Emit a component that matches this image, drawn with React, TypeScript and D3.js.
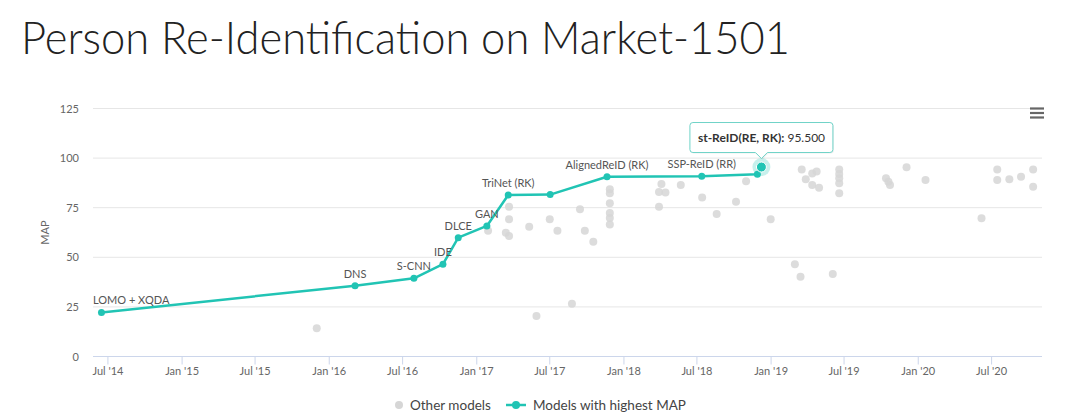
import React from "react";
import * as d3 from "d3";

// ---- data ----
const sotaNames = ["LOMO + XQDA", "DNS", "S-CNN", "IDE", "DLCE", "GAN", "TriNet (RK)", "", "AlignedReID (RK)", "SSP-ReID (RR)", "", "st-ReID(RE, RK)"];
const sotaDates = ["2014-06-15", "2016-03-05", "2016-07-29", "2016-10-09", "2016-11-16", "2017-01-26", "2017-03-20", "2017-07-02", "2017-11-20", "2018-07-13", "2018-11-28", "2018-12-08"];
const sotaValues = [22.2, 35.7, 39.4, 46.5, 59.9, 65.8, 81.4, 81.6, 90.6, 90.8, 91.8, 95.5];
const sotaLabelShown = [true, true, true, true, true, true, true, false, true, true, false, false];

const otherDates = [
  "2015-12-01", "2017-01-29", "2017-03-22", "2017-03-22", "2017-03-14", "2017-03-22", "2017-05-11", "2017-05-29",
  "2017-07-01", "2017-07-20", "2017-08-25", "2017-09-14", "2017-09-26", "2017-10-17",
  "2017-11-27", "2017-11-27", "2017-11-27", "2017-11-27", "2017-11-27", "2017-11-27",
  "2018-03-29", "2018-04-04", "2018-04-14", "2018-03-29", "2018-05-22", "2018-07-14", "2018-08-19", "2018-10-06", "2018-10-31", "2018-12-31",
  "2019-03-01", "2019-03-15", "2019-03-18", "2019-03-28", "2019-04-13", "2019-04-24", "2019-04-13", "2019-04-30", "2019-06-03",
  "2019-06-19", "2019-06-19", "2019-06-19", "2019-06-19", "2019-06-19",
  "2019-10-13", "2019-10-19", "2019-10-23", "2019-12-03", "2020-01-19", "2020-06-06",
  "2020-07-15", "2020-07-15", "2020-08-14", "2020-09-12", "2020-10-12", "2020-10-12",
];
const otherValues = [
  14.2, 63.4, 75.5, 69.2, 62.4, 60.7, 65.4, 20.4,
  69.2, 63.4, 26.6, 74.2, 63.4, 57.9,
  84.3, 82.3, 77.3, 72.3, 69.8, 66.5,
  82.9, 86.9, 82.6, 75.5, 86.4, 80.2, 71.8, 78.0, 88.3, 69.2,
  46.5, 40.2, 94.3, 89.3, 92.3, 93.3, 86.4, 85.1, 41.6,
  94.3, 92.0, 89.8, 87.3, 82.3,
  89.8, 88.1, 86.4, 95.4, 89.0, 69.7,
  94.3, 89.0, 89.3, 90.6, 94.3, 85.6,
];

const yTicks = [0, 25, 50, 75, 100, 125];
const xDomain = ["2014-05-25", "2020-11-03"];
const titleText = "Person Re-Identification on Market-1501";
const yAxisTitle = "MAP";
const legendItems = ["Other models", "Models with highest MAP"];
const highlightIndex = 11;

const TEAL = "#21c4b4";
const GRAY = "#d6d6d6";
const FONT = "Lato, 'Open Sans', sans-serif";

export default function App() {
  const parse = d3.timeParse("%Y-%m-%d");
  const left = 93, right = 1042, top = 108.5, bottom = 356.5;
  const x = d3.scaleTime().domain(xDomain.map((d) => parse(d) as Date)).range([left, right]);
  const y = d3.scaleLinear().domain([0, 125]).range([bottom, top]);

  const sota = sotaDates.map((d, i) => ({ date: parse(d) as Date, v: sotaValues[i], name: sotaNames[i], show: sotaLabelShown[i] }));
  const others = otherDates.map((d, i) => ({ date: parse(d) as Date, v: otherValues[i] }));

  const line = d3.line<{ date: Date; v: number }>().x((d) => x(d.date)).y((d) => y(d.v));
  const xTicks = x.ticks(d3.timeMonth.every(6) as any).filter((d) => d.getMonth() === 0 || d.getMonth() === 6);
  const fmt = d3.timeFormat("%b '%y");

  const hp = sota[highlightIndex];
  const hx = x(hp.date), hy = y(hp.v);
  const tw = 143, th = 30;
  const tx = hx - tw / 2, tyBottom = hy - 14.5, tyTop = tyBottom - th;
  const r = 3;
  const tip = `M${tx + r},${tyTop} H${tx + tw - r} Q${tx + tw},${tyTop} ${tx + tw},${tyTop + r} V${tyBottom - r} Q${tx + tw},${tyBottom} ${tx + tw - r},${tyBottom} H${hx + 6} L${hx},${tyBottom + 6} L${hx - 6},${tyBottom} H${tx + r} Q${tx},${tyBottom} ${tx},${tyBottom - r} V${tyTop + r} Q${tx},${tyTop} ${tx + r},${tyTop} Z`;

  return (
    <svg width={1080} height={415} style={{ position: "absolute", left: 0, top: 0, display: "block" }} fontFamily={FONT}>
      <rect width={1080} height={415} fill="#fff" />
      <text x={21} y={54} fontSize={45} fontWeight={300} fill="#222" textLength={769} lengthAdjust="spacingAndGlyphs">{titleText}</text>

      {/* grid */}
      {yTicks.map((t) => (
        <g key={t}>
          <line x1={left} x2={right} y1={y(t)} y2={y(t)} stroke={t === 0 ? "#ccd6eb" : "#e6e6e6"} strokeWidth={1} />
          <text x={79} y={y(t) + 4} textAnchor="end" fontSize={11} fill="#666">{t}</text>
        </g>
      ))}
      <text transform={`translate(49,${(top + bottom) / 2}) rotate(-90)`} textAnchor="middle" fontSize={11} fill="#666">{yAxisTitle}</text>

      {/* x axis */}
      {xTicks.map((t, i) => (
        <g key={i}>
          <line x1={x(t)} x2={x(t)} y1={bottom} y2={bottom + 8} stroke="#ccd6eb" />
          <text x={x(t)} y={375} textAnchor="middle" fontSize={11} fill="#666">{fmt(t)}</text>
        </g>
      ))}

      {/* other points */}
      {others.map((d, i) => (
        <circle key={i} cx={x(d.date)} cy={y(d.v)} r={4} fill={GRAY} fillOpacity={0.85} />
      ))}

      {/* sota line */}
      <path d={line(sota) || ""} fill="none" stroke={TEAL} strokeWidth={2.5} strokeLinejoin="round" />
      {sota.map((d, i) => (
        <circle key={i} cx={x(d.date)} cy={y(d.v)} r={3.5} fill={TEAL} />
      ))}
      {sota.map((d, i) => {
        if (!d.show) return null;
        const px = x(d.date);
        const anchorStart = i === 0;
        return (
          <text key={"l" + i} x={anchorStart ? left : px} y={y(d.v) - 8} textAnchor={anchorStart ? "start" : "middle"} fontSize={11} fill="#555">{d.name}</text>
        );
      })}

      {/* hover highlight */}
      <circle cx={hx} cy={hy} r={9} fill={TEAL} fillOpacity={0.25} />
      <circle cx={hx} cy={hy} r={5} fill={TEAL} stroke="#fff" strokeWidth={1} />

      {/* tooltip */}
      <path d={tip} fill="#000" opacity={0.06} transform="translate(1,1)" />
      <path d={tip} fill="#fff" fillOpacity={0.96} stroke="#6fd3c8" strokeWidth={1} />
      <text x={tx + 8} y={tyTop + 19} fontSize={12} fill="#333">
        <tspan fontWeight={700}>{hp.name}:</tspan>
        <tspan> {hp.v.toFixed(3)}</tspan>
      </text>

      {/* menu */}
      {[0, 4.5, 9].map((o) => (
        <line key={o} x1={1030} x2={1044} y1={108.5 + o} y2={108.5 + o} stroke="#666" strokeWidth={2.2} />
      ))}

      {/* legend */}
      <circle cx={399} cy={405} r={4} fill={GRAY} />
      <text x={410} y={409.5} fontSize={13.5} fill="#444">{legendItems[0]}</text>
      <line x1={506} x2={526} y1={405} y2={405} stroke={TEAL} strokeWidth={2.5} />
      <circle cx={516} cy={405} r={4} fill={TEAL} />
      <text x={533} y={409.5} fontSize={13.5} fill="#444">{legendItems[1]}</text>
    </svg>
  );
}
